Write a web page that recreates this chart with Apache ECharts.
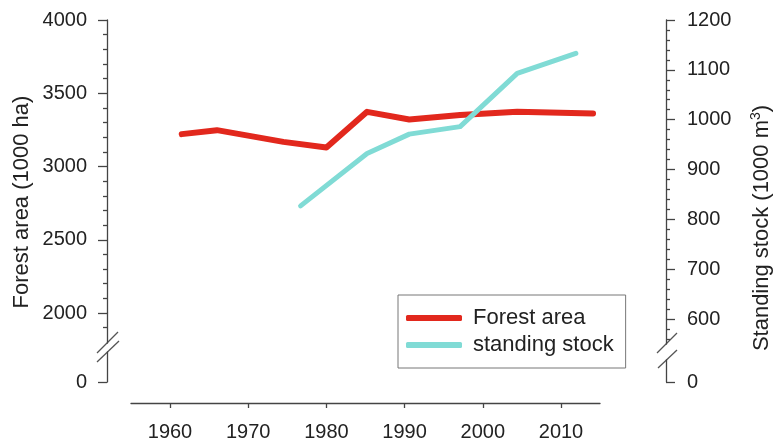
<!DOCTYPE html>
<html>
<head>
<meta charset="utf-8">
<script src="https://cdn.jsdelivr.net/npm/echarts@6/dist/echarts.min.js"></script>
<style>
  html, body { margin: 0; padding: 0; background: #fff; }
  #chart { width: 777px; height: 443px; }
</style>
</head>
<body>
<div id="chart"></div>
<script>
// data
const forestYears = [1961.5, 1966, 1974.5, 1980, 1985.2, 1990.6, 1997.1, 2004.4, 2014.1];
const forestArea = [3221, 3248, 3168, 3130, 3373, 3321, 3351, 3373, 3362];
const stockYears = [1976.7, 1985.2, 1990.6, 1997.1, 2004.4, 2011.9];
const standingStock = [827, 932, 971, 986, 1093, 1133];
const yearTicks = [1960, 1970, 1980, 1990, 2000, 2010];
const seriesNames = ["Forest area", "standing stock"];

const font = "Liberation Sans";
const axisColor = "#444";
const textColor = "#222";

// px per year: 1960 at x=170, 2010 at x=561
const pxYear = (561 - 170) / 50;
const yearAt = x => 1960 + (x - 170) / pxYear;
const plotL = 107, plotR = 666;

const axisLine = { show: true, lineStyle: { color: axisColor, width: 1.3 } };
const hiddenX = { type: "value", show: false, min: yearAt(plotL), max: yearAt(plotR) };
const label = { color: textColor, fontSize: 20, fontFamily: font, formatter: v => String(v) };

function grid(top, height) {
  return { left: plotL, right: 777 - plotR, top: top, height: height };
}

const chart = echarts.init(document.getElementById("chart"));
chart.setOption({
  animation: false,
  grid: [
    grid(20, 293),   // left main
    grid(20, 299),   // right main
    grid(313, 30),   // left stub
    grid(319, 25),   // right stub
    grid(352, 30),   // left zero
    grid(360, 22),   // right zero
    { left: 131, right: 777 - 600, top: 300, height: 103 } // x axis
  ],
  xAxis: [
    Object.assign({ gridIndex: 0 }, hiddenX),
    Object.assign({ gridIndex: 1 }, hiddenX),
    Object.assign({ gridIndex: 2 }, hiddenX),
    Object.assign({ gridIndex: 3 }, hiddenX),
    Object.assign({ gridIndex: 4 }, hiddenX),
    Object.assign({ gridIndex: 5 }, hiddenX),
    {
      gridIndex: 6, type: "value", min: yearAt(131), max: yearAt(600),
      axisLine: axisLine,
      axisTick: { show: true, length: 5, customValues: yearTicks, lineStyle: { color: axisColor, width: 1.3 } },
      axisLabel: Object.assign({ margin: 19, customValues: yearTicks }, label),
      splitLine: { show: false }
    }
  ],
  yAxis: [
    {
      gridIndex: 0, type: "value", position: "left", min: 2000, max: 4000, interval: 500,
      axisLine: axisLine,
      axisTick: { show: true, length: 9, lineStyle: { color: axisColor, width: 1.3 } },
      minorTick: { show: true, splitNumber: 5, length: 4, lineStyle: { color: axisColor, width: 1.3 } },
      axisLabel: Object.assign({ margin: 20 }, label),
      splitLine: { show: false }
    },
    {
      gridIndex: 1, type: "value", position: "right", min: 600, max: 1200, interval: 100,
      axisLine: axisLine,
      axisTick: { show: true, length: 9, lineStyle: { color: axisColor, width: 1.3 } },
      minorTick: { show: true, splitNumber: 5, length: 4, lineStyle: { color: axisColor, width: 1.3 } },
      axisLabel: Object.assign({ margin: 21 }, label),
      splitLine: { show: false }
    },
    {
      gridIndex: 2, type: "value", position: "left", min: 1795, max: 2000,
      axisLine: axisLine,
      axisTick: { show: true, length: 4, customValues: [1900], lineStyle: { color: axisColor, width: 1.3 } },
      axisLabel: { show: false },
      splitLine: { show: false }
    },
    {
      gridIndex: 3, type: "value", position: "right", min: 550, max: 600,
      axisLine: axisLine,
      axisTick: { show: true, length: 4, customValues: [580, 560], lineStyle: { color: axisColor, width: 1.3 } },
      axisLabel: { show: false },
      splitLine: { show: false }
    },
    {
      gridIndex: 4, type: "value", position: "left", min: 0, max: 100,
      axisLine: axisLine,
      axisTick: { show: true, length: 9, customValues: [0], lineStyle: { color: axisColor, width: 1.3 } },
      axisLabel: Object.assign({ margin: 20, customValues: [0] }, label),
      splitLine: { show: false }
    },
    {
      gridIndex: 5, type: "value", position: "right", min: 0, max: 100,
      axisLine: axisLine,
      axisTick: { show: true, length: 9, customValues: [0], lineStyle: { color: axisColor, width: 1.3 } },
      axisLabel: Object.assign({ margin: 21, customValues: [0] }, label),
      splitLine: { show: false }
    },
    { gridIndex: 6, type: "value", show: false, min: 0, max: 1 }
  ],
  legend: {
    data: seriesNames,
    orient: "vertical",
    left: 398, top: 295,
    padding: [12, 12, 12, 8],
    itemGap: 5,
    itemWidth: 56, itemHeight: 6,
    icon: "roundRect",
    borderColor: "#777", borderWidth: 1,
    textStyle: { color: textColor, fontSize: 22, fontFamily: font, padding: [0, 0, 0, 6] }
  },
  graphic: [
    {
      type: "text", x: 22, y: 202, rotation: Math.PI / 2,
      style: {
        text: "Forest area (1000 ha)", fill: textColor,
        font: "22px '" + font + "'",
        textAlign: "center", textVerticalAlign: "middle", align: "center", verticalAlign: "middle"
      }
    },
    {
      type: "text", x: 762, y: 228, rotation: Math.PI / 2,
      style: {
        text: "{a|Standing stock (1000 m}{s|3}{a|)}", fill: textColor,
        rich: {
          a: { fontSize: 22, fontFamily: font, fill: textColor, lineHeight: 26 },
          s: { fontSize: 14, fontFamily: font, fill: textColor, verticalAlign: "top", lineHeight: 26 }
        },
        textAlign: "center", textVerticalAlign: "middle", align: "center", verticalAlign: "middle"
      }
    },
    // axis break marks
    { type: "line", shape: { x1: 97, y1: 353, x2: 118, y2: 332 }, style: { stroke: "#555", lineWidth: 1.3 } },
    { type: "line", shape: { x1: 97, y1: 362, x2: 119, y2: 341 }, style: { stroke: "#555", lineWidth: 1.3 } },
    { type: "line", shape: { x1: 657, y1: 353, x2: 677, y2: 333 }, style: { stroke: "#555", lineWidth: 1.3 } },
    { type: "line", shape: { x1: 658, y1: 368, x2: 677, y2: 350 }, style: { stroke: "#555", lineWidth: 1.3 } }
  ],
  series: [
    {
      name: seriesNames[0], type: "line", xAxisIndex: 0, yAxisIndex: 0,
      data: forestYears.map((y, i) => [y, forestArea[i]]),
      showSymbol: false, symbol: "none",
      itemStyle: { color: "#e2281d" },
      lineStyle: { color: "#e2281d", width: 6, cap: "round", join: "round" }
    },
    {
      name: seriesNames[1], type: "line", xAxisIndex: 1, yAxisIndex: 1,
      data: stockYears.map((y, i) => [y, standingStock[i]]),
      showSymbol: false, symbol: "none",
      itemStyle: { color: "#80dbd5" },
      lineStyle: { color: "#80dbd5", width: 5, cap: "round", join: "round" }
    }
  ]
});
</script>
</body>
</html>
